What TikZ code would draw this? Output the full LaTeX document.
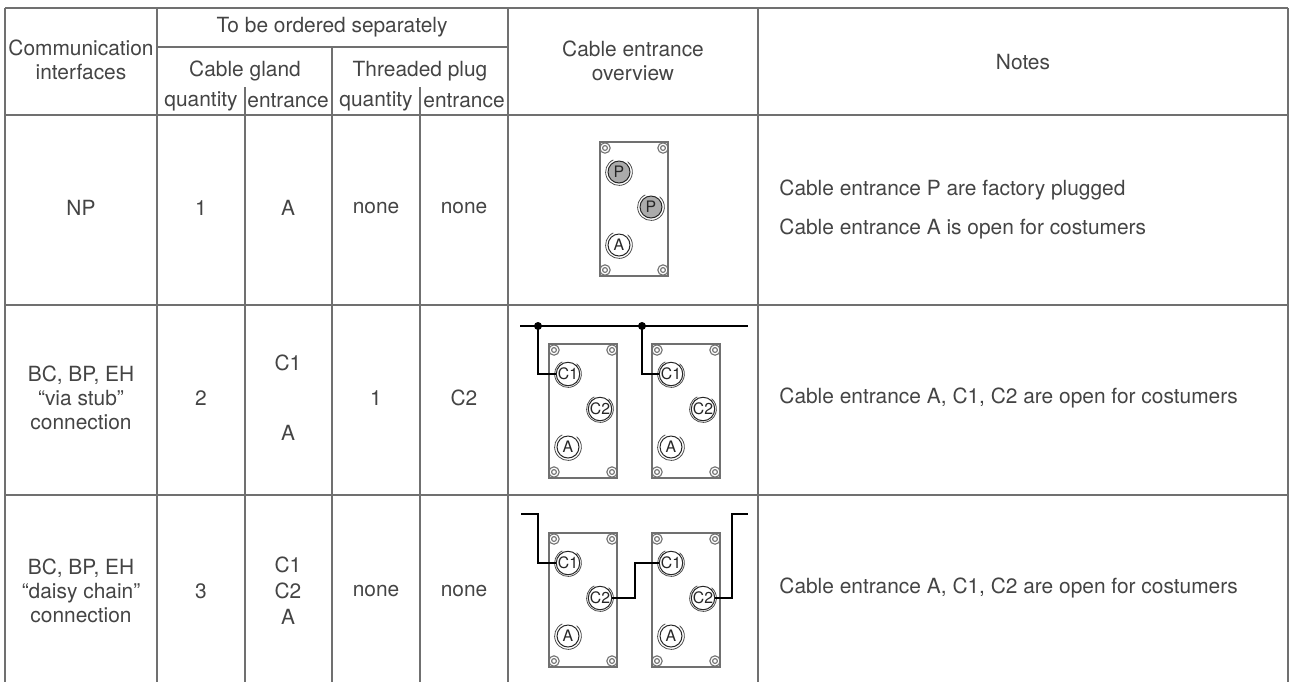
\documentclass[tikz,border=0pt]{standalone}
\usepackage{fontspec}
\setmainfont{TeX Gyre Heros}
\definecolor{txt}{HTML}{444444}
\definecolor{rule}{HTML}{707070}
\definecolor{plug}{HTML}{ABABAB}
\tikzset{
	grid/.style={draw=rule, line width=0.55pt},
	casing/.style={draw=rule, line width=0.55pt},
	entr/.style={circle, draw=black!85, line width=0.5pt, minimum size=11pt, inner sep=0pt, font=\fontsize{7.9}{8}\selectfont, text=black!85},
	ring/.style={draw=black!70, line width=0.4pt},
	cable/.style={draw=black, line width=1.3pt},
	joint/.style={circle, fill=black, minimum size=4pt, inner sep=0pt},
	cell/.style={font=\fontsize{10.45}{12}\selectfont, text=txt, align=center, inner sep=0pt},
	note/.style={cell, anchor=west, align=left},
	pics/housing/.style n args={3}{code={
		\draw[casing] (0,0) rectangle (68,134);
		\foreach \sx/\sy in {5/6,63/6,5/128,63/128}
			\draw[casing] (\sx,\sy) circle[radius=2.6pt] circle[radius=1.2pt];
		\foreach \ex/\ey in {19/30,51/65,19/103}
			\draw[ring] (\ex,\ey) ++(115:6.7pt) arc[start angle=115, end angle=410, radius=6.7pt];
		\node[entr,#3] (-e1) at (19,30) {#1};
		\node[entr,#3] (-e2) at (51,65) {#2};
		\node[entr,fill=white] (-a) at (19,103) {A};
	}}
}
\begin{document}
\begin{tikzpicture}[x=0.5pt, y=-0.5pt]
	\useasboundingbox (0,0) rectangle (1290,682);
	% table rules
	\draw[grid] (5,8) -- (1288,8);
	\draw[grid] (157,47) -- (508,47);
	\draw[grid] (5,115) -- (1288,115);
	\draw[grid] (5,305) -- (1288,305);
	\draw[grid] (5,495) -- (1288,495);
	\foreach \cx in {5,157,508,758,1288}
		\draw[grid] (\cx,8) -- (\cx,682);
	\draw[grid] (332,47) -- (332,682);
	\foreach \cx in {245,420}
		\draw[grid] (\cx,87) -- (\cx,682);
	% header
	\node[cell] (hcom) at (81,60) {Communication\\interfaces};
	\node[cell] (hord) at (332,27) {To be ordered separately};
	\node[cell] (hgland) at (245,71) {Cable gland};
	\node[cell] (hplug) at (420,71) {Threaded plug};
	\node[cell] (hgq) at (201,101) {quantity};
	\node[cell] (hge) at (288,101) {entrance};
	\node[cell] (hpq) at (376,101) {quantity};
	\node[cell] (hpe) at (464,101) {entrance};
	\node[cell] (hview) at (633,61) {Cable entrance\\overview};
	\node[cell] (hnotes) at (1023,62) {Notes};
	% row NP
	\node[cell] (r1if) at (81,208) {NP};
	\node[cell] (r1gq) at (201,208) {1};
	\node[cell] (r1ge) at (288,208) {A};
	\node[cell] (r1pq) at (376,208) {none};
	\node[cell] (r1pe) at (464,208) {none};
	\node[note] (r1na) at (779,190) {Cable entrance P are factory plugged};
	\node[note] (r1nb) at (779,229) {Cable entrance A is open for costumers};
	\pic (np) at (600,142) {housing={P}{P}{fill=plug}};
	% row via stub
	\node[cell] (r2if) at (81,398) {BC, BP, EH\\“via stub”\\connection};
	\node[cell] (r2gq) at (201,398) {2};
	\node[cell] (r2gc) at (288,363) {C1};
	\node[cell] (r2ga) at (288,433) {A};
	\node[cell] (r2pq) at (376,398) {1};
	\node[cell] (r2pe) at (464,398) {C2};
	\node[note] (r2n) at (779,398) {Cable entrance A, C1, C2 are open for costumers};
	\pic (s1) at (549,344) {housing={C1}{C2}{fill=white}};
	\pic (s2) at (652,344) {housing={C1}{C2}{fill=white}};
	\coordinate (busw) at (520,326);
	\coordinate (buse) at (748,326);
	\draw[cable] (busw) -- (buse);
	\node[joint] (j1) at (538,326) {};
	\node[joint] (j2) at (642,326) {};
	\draw[cable] (j1.center) |- (s1-e1);
	\draw[cable] (j2.center) |- (s2-e1);
	% row daisy chain
	\node[cell] (r3if) at (81,591) {BC, BP, EH\\“daisy chain”\\connection};
	\node[cell] (r3gq) at (201,591) {3};
	\node[cell, font=\fontsize{10.45}{13}\selectfont] (r3ge) at (288,591) {C1\\C2\\A};
	\node[cell] (r3pq) at (376,591) {none};
	\node[cell] (r3pe) at (464,591) {none};
	\node[note] (r3n) at (779,588) {Cable entrance A, C1, C2 are open for costumers};
	\pic (d1) at (549,533) {housing={C1}{C2}{fill=white}};
	\pic (d2) at (652,533) {housing={C1}{C2}{fill=white}};
	\coordinate (dw) at (521,514);
	\coordinate (de) at (748,514);
	\draw[cable] (dw) -- ++(17,0) |- (d1-e1);
	\draw[cable] (d1-e2) -- ++(35,0) |- (d2-e1);
	\draw[cable] (d2-e2) -- ++(29,0) |- (de);
\end{tikzpicture}
\end{document}
